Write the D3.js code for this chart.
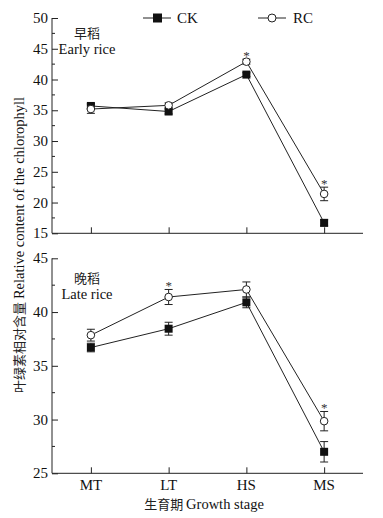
<!DOCTYPE html>
<html>
<head>
<meta charset="utf-8">
<script src="https://cdn.jsdelivr.net/npm/d3@7"></script>
<style>
body { margin: 0; background: #fff; }
</style>
</head>
<body>
<svg width="383" height="518"></svg>
<script>
// growth stages and series values
var stages = ["MT", "LT", "HS", "MS"];

var early_ck = [35.7, 34.8, 40.8, 16.7];
var early_ck_err = [0.4, 0.4, 0.3, 0.5];
var early_rc = [35.2, 35.8, 42.9, 21.4];
var early_rc_err = [0.7, 0.4, 0.4, 1.1];
var early_sig = [false, false, true, true];

var late_ck = [36.7, 38.45, 40.9, 27.0];
var late_ck_err = [0.4, 0.6, 0.5, 0.95];
var late_rc = [37.85, 41.4, 42.1, 29.85];
var late_rc_err = [0.55, 0.7, 0.7, 0.9];
var late_sig = [false, true, false, true];

var early_ticks = [15, 20, 25, 30, 35, 40, 45, 50];
var late_ticks = [25, 30, 35, 40, 45];

var serif = "'Liberation Serif', 'DejaVu Serif', serif";
var cjk = "'Noto Sans CJK SC', sans-serif";

var svg = d3.select("svg").attr("font-family", serif);
var left = 52, right = 363;

var x = d3.scalePoint().domain(stages).range([left, right]).padding(0.5);

function draw_panel(cfg) {
	var y = d3.scaleLinear().domain(cfg.domain).range([cfg.bottom, cfg.top]);
	var g = svg.append("g");

	// minor ticks at the half steps
	var minor = d3.range(cfg.domain[0] + 2.5, cfg.domain[1], 5);
	g.selectAll(".minor").data(minor).enter().append("line")
		.attr("x1", left).attr("x2", left + 3)
		.attr("y1", function(d) { return y(d); }).attr("y2", function(d) { return y(d); })
		.attr("stroke", "#222").attr("stroke-width", 1);

	var yAxis = g.append("g")
		.attr("transform", "translate(" + left + ",0)")
		.call(d3.axisRight(y).tickValues(cfg.ticks).tickSize(6).tickFormat(""));
	yAxis.select(".domain").attr("d", "M0," + cfg.top + "V" + cfg.bottom).attr("stroke", "#222");
	yAxis.selectAll("line").attr("stroke", "#222");

	g.selectAll(".ylab").data(cfg.ticks).enter().append("text")
		.attr("x", left - 4).attr("y", function(d) { return y(d) + 5; })
		.attr("text-anchor", "end").attr("font-size", 15).attr("fill", "#111")
		.text(function(d) { return d; });

	var xAxis = g.append("g")
		.attr("transform", "translate(0," + cfg.bottom + ")")
		.call(d3.axisTop(x).tickSize(6).tickFormat(""));
	xAxis.select(".domain").attr("d", "M" + left + ",0H" + right).attr("stroke", "#222");
	xAxis.selectAll("line").attr("stroke", "#222");

	// panel label
	g.append("text").attr("x", 87).attr("y", cfg.top + cfg.labelDy)
		.attr("text-anchor", "middle").attr("font-size", 13).attr("fill", "#222")
		.attr("font-family", cjk)
		.text(cfg.zh);
	g.append("text").attr("x", 87).attr("y", cfg.top + cfg.labelDy + 16)
		.attr("text-anchor", "middle").attr("font-size", 14.5).attr("fill", "#111")
		.text(cfg.en);

	var line = d3.line()
		.x(function(d, i) { return x(stages[i]); })
		.y(function(d) { return y(d); });

	[cfg.ck, cfg.rc].forEach(function(s) {
		g.append("path").datum(s).attr("d", line)
			.attr("fill", "none").attr("stroke", "#222").attr("stroke-width", 1);
	});

	// error bars
	function err_bars(vals, errs) {
		var eg = g.append("g").attr("stroke", "#222").attr("stroke-width", 1);
		vals.forEach(function(v, i) {
			var cx = x(stages[i]);
			eg.append("line").attr("x1", cx).attr("x2", cx).attr("y1", y(v - errs[i])).attr("y2", y(v + errs[i]));
			eg.append("line").attr("x1", cx - 4).attr("x2", cx + 4).attr("y1", y(v - errs[i])).attr("y2", y(v - errs[i]));
			eg.append("line").attr("x1", cx - 4).attr("x2", cx + 4).attr("y1", y(v + errs[i])).attr("y2", y(v + errs[i]));
		});
	}
	err_bars(cfg.ck, cfg.ck_err);
	err_bars(cfg.rc, cfg.rc_err);

	g.selectAll(".sq").data(cfg.ck).enter().append("rect")
		.attr("x", function(d, i) { return x(stages[i]) - 4; })
		.attr("y", function(d) { return y(d) - 4; })
		.attr("width", 8).attr("height", 8).attr("fill", "#111");

	g.selectAll(".ci").data(cfg.rc).enter().append("circle")
		.attr("cx", function(d, i) { return x(stages[i]); })
		.attr("cy", function(d) { return y(d); })
		.attr("r", 3.8).attr("fill", "#fff").attr("stroke", "#222").attr("stroke-width", 1);

	// significance marks
	cfg.sig.forEach(function(s, i) {
		if (!s) return;
		g.append("text").attr("x", x(stages[i])).attr("y", y(cfg.rc[i] + cfg.rc_err[i]) + 1)
			.attr("text-anchor", "middle").attr("font-size", 13).attr("fill", "#333").text("*");
	});
	return y;
}

draw_panel({domain: [15, 50], ticks: early_ticks, top: 18, bottom: 233.3,
	ck: early_ck, ck_err: early_ck_err, rc: early_rc, rc_err: early_rc_err, sig: early_sig,
	zh: "早稻", en: "Early rice", labelDy: 20});

draw_panel({domain: [25, 45], ticks: late_ticks, top: 258.3, bottom: 473.3,
	ck: late_ck, ck_err: late_ck_err, rc: late_rc, rc_err: late_rc_err, sig: late_sig,
	zh: "晚稻", en: "Late rice", labelDy: 25});

// x tick labels under the lower panel
svg.selectAll(".xlab").data(stages).enter().append("text")
	.attr("x", function(d) { return x(d); }).attr("y", 490)
	.attr("text-anchor", "middle").attr("font-size", 15).attr("fill", "#111")
	.text(function(d) { return d; });

var xt = svg.append("text").attr("x", 204).attr("y", 509).attr("text-anchor", "middle")
	.attr("font-size", 14.5).attr("fill", "#111");
xt.append("tspan").attr("font-family", cjk).attr("font-size", 13).attr("fill", "#222").text("生育期 ");
xt.append("tspan").text("Growth stage");

var yt = svg.append("text").attr("transform", "translate(24,245) rotate(-90)")
	.attr("text-anchor", "middle").attr("font-size", 14.5).attr("fill", "#111");
yt.append("tspan").attr("font-family", cjk).attr("font-size", 13).attr("fill", "#222").text("叶绿素相对含量 ");
yt.append("tspan").text("Relative content of the chlorophyll");

// legend
var legend = svg.append("g");
legend.append("line").attr("x1", 143).attr("x2", 171).attr("y1", 18).attr("y2", 18).attr("stroke", "#222");
legend.append("rect").attr("x", 153).attr("y", 13.5).attr("width", 9).attr("height", 9).attr("fill", "#111");
legend.append("text").attr("x", 177).attr("y", 23).attr("font-size", 15).attr("fill", "#111").text("CK");
legend.append("line").attr("x1", 258).attr("x2", 286).attr("y1", 18).attr("y2", 18).attr("stroke", "#222");
legend.append("circle").attr("cx", 272).attr("cy", 18).attr("r", 4).attr("fill", "#fff").attr("stroke", "#222");
legend.append("text").attr("x", 293).attr("y", 23).attr("font-size", 15).attr("fill", "#111").text("RC");
</script>
</body>
</html>
